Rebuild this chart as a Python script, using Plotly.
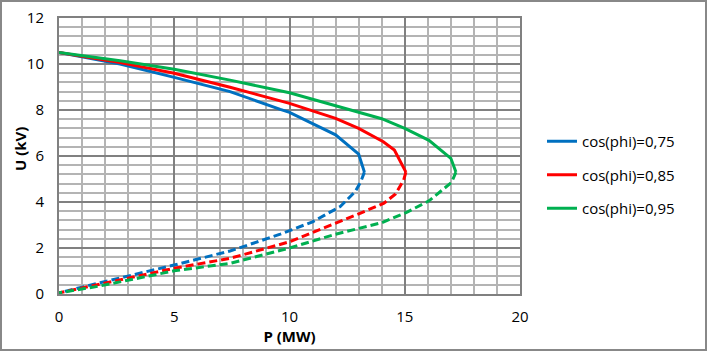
import plotly.graph_objects as go

# Data
labels = ["cos(phi)=0,75", "cos(phi)=0,85", "cos(phi)=0,95"]
colors = ["#0070C0", "#FF0000", "#00B050"]

# Upper (stable) branch, solid
p_up_075 = [0, 2.65, 5.0, 7.42, 9.6, 10.0, 12.0, 13.0, 13.25]
u_up_075 = [10.5, 10.0, 9.42, 8.8, 8.03, 7.9, 6.92, 6.08, 5.3]
p_up_085 = [0, 2.65, 5.0, 7.42, 10.0, 12.0, 13.0, 14.07, 14.55, 15.05]
u_up_085 = [10.5, 10.06, 9.6, 8.99, 8.29, 7.64, 7.2, 6.62, 6.26, 5.3]
p_up_095 = [0, 2.65, 5.0, 7.42, 10.0, 12.0, 14.0, 15.0, 16.05, 17.0, 17.22]
u_up_095 = [10.5, 10.14, 9.77, 9.3, 8.75, 8.17, 7.62, 7.2, 6.68, 5.9, 5.3]

# Lower (unstable) branch, dashed
p_lo_075 = [13.25, 13.1, 12.85, 12.2, 11.0, 9.6, 7.42, 5.0, 1.78, 0]
u_lo_075 = [5.3, 4.9, 4.45, 3.8, 3.14, 2.6, 1.87, 1.26, 0.49, 0.05]
p_lo_085 = [15.05, 14.95, 14.6, 14.1, 13.06, 12.0, 10.0, 7.42, 5.0, 1.78, 0]
u_lo_085 = [5.3, 4.95, 4.35, 3.95, 3.51, 3.07, 2.27, 1.55, 1.12, 0.43, 0.05]
p_lo_095 = [17.22, 17.03, 16.6, 16.05, 15.08, 14.0, 12.0, 10.0, 7.42, 5.0, 1.78, 0]
u_lo_095 = [5.3, 4.85, 4.5, 4.05, 3.55, 3.1, 2.6, 2.0, 1.33, 1.01, 0.35, 0.05]

x_ticks = [0, 5, 10, 15, 20]
y_ticks = [0, 2, 4, 6, 8, 10, 12]

ups = [(p_up_075, u_up_075), (p_up_085, u_up_085), (p_up_095, u_up_095)]
los = [(p_lo_075, u_lo_075), (p_lo_085, u_lo_085), (p_lo_095, u_lo_095)]

fig = go.Figure()
for i in range(3):
    fig.add_trace(go.Scatter(
        x=ups[i][0], y=ups[i][1], mode="lines", name=labels[i],
        legendgroup=f"g{i}", line=dict(color=colors[i], width=3)))
for i in range(3):
    fig.add_trace(go.Scatter(
        x=los[i][0], y=los[i][1], mode="lines", name=labels[i],
        legendgroup=f"g{i}", showlegend=False,
        line=dict(color=colors[i], width=3, dash="8px,4px")))

L, R, T, B = 59, 187, 18, 57
W, H = 707, 351
pw, ph = W - L - R, H - T - B

fig.update_layout(
    width=W, height=H,
    margin=dict(l=L, r=R, t=T, b=B, autoexpand=False),
    paper_bgcolor="white", plot_bgcolor="white",
    font=dict(family="Open Sans", size=15, color="#000000"),
    legend=dict(x=(542 - L) / pw, xanchor="left", y=(294 - 175) / ph, yanchor="middle",
                font=dict(size=15, color="#000000"), tracegroupgap=11,
                bgcolor="rgba(0,0,0,0)", borderwidth=0),
    showlegend=True,
)
fig.update_xaxes(
    range=[0, 20], tickvals=x_ticks, ticktext=[str(v) for v in x_ticks],
    showgrid=True, gridcolor="#808080", gridwidth=2,
    minor=dict(dtick=1, showgrid=True, gridcolor="#B4B4B4", gridwidth=2),
    zeroline=False, showline=True, linecolor="#808080", linewidth=2, mirror=True,
    ticks="", ticklabelstandoff=8, automargin=False,
    title=dict(text="<b>P (MW)</b>", font=dict(size=15), standoff=4),
)
fig.update_yaxes(
    range=[0, 12], tickvals=y_ticks, ticktext=[str(v) for v in y_ticks],
    showgrid=True, gridcolor="#808080", gridwidth=2,
    minor=dict(dtick=0.4, showgrid=True, gridcolor="#B4B4B4", gridwidth=2),
    zeroline=False, showline=True, linecolor="#808080", linewidth=2, mirror=True,
    ticks="", ticklabelstandoff=10, automargin=False,
)

# Y-axis title as a rotated annotation
fig.add_annotation(text="<b>U (kV)</b>", xref="paper", yref="paper",
                   x=(20 - L) / pw, y=(294 - 149) / ph, xanchor="center", yanchor="middle",
                   textangle=-90, showarrow=False, font=dict(size=15, color="#000000"))

# Outer chart frame
fig.add_shape(type="rect", xref="paper", yref="paper",
              x0=(1 - L) / pw, x1=(W - 1 - L) / pw,
              y0=(H - B - (H - 1)) / ph, y1=(H - B - 1) / ph,
              line=dict(color="#888888", width=2), layer="above")

fig.write_html("out.html")
